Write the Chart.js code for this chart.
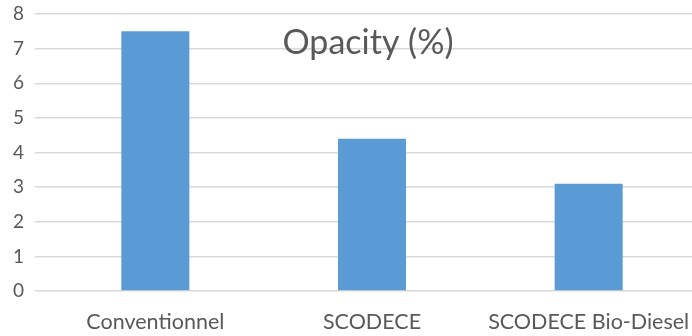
<!DOCTYPE html>
<html>
<head>
<meta charset="utf-8">
<script src="https://cdn.jsdelivr.net/npm/chart.js@4/dist/chart.umd.min.js"></script>
<style>
  html, body { margin: 0; padding: 0; overflow: hidden; background: #fff; }
  #wrap { width: 700px; height: 336px; position: relative; }
</style>
</head>
<body>
<div id="wrap"><canvas id="c"></canvas></div>
<script>
// Opacity readings per fuel
const categories = ['Conventionnel', 'SCODECE', 'SCODECE Bio-Diesel'];
const opacity = [7.5, 4.4, 3.1];
const yTicks = [0, 1, 2, 3, 4, 5, 6, 7, 8];
const chartTitle = 'Opacity (%)';

const FONT = 'Lato, "Open Sans", sans-serif';
const TEXT = '#595959';
const GRID = '#d9d9d9';

// Title drawn inside the plot area, over the grid
const innerTitle = {
  id: 'innerTitle',
  afterDatasetsDraw(chart) {
    const { ctx, chartArea, scales } = chart;
    ctx.save();
    ctx.font = '34px ' + FONT;
    ctx.fillStyle = TEXT;
    ctx.textAlign = 'center';
    ctx.textBaseline = 'alphabetic';
    ctx.fillText(chartTitle, scales.x.getPixelForValue(1) - 4, chartArea.top + 40);
    ctx.restore();
  }
};

new Chart(document.getElementById('c'), {
  type: 'bar',
  data: {
    labels: categories,
    datasets: [{
      label: chartTitle,
      data: opacity,
      backgroundColor: '#5b9bd5',
      borderWidth: 0,
      barPercentage: 1,
      categoryPercentage: 0.314
    }]
  },
  options: {
    responsive: true,
    maintainAspectRatio: false,
    animation: false,
    layout: { padding: { top: 14, right: 3, left: 0, bottom: 0 } },
    plugins: {
      legend: { display: false },
      title: { display: false },
      tooltip: { enabled: false }
    },
    scales: {
      x: {
        grid: { display: false },
        border: { display: false },
        ticks: { color: TEXT, font: { family: FONT, size: 21.5 }, padding: 10, maxRotation: 0, autoSkip: false },
        afterFit(s) { s.height = 45; s.paddingLeft = 0; s.paddingRight = 0; }
      },
      y: {
        min: yTicks[0],
        max: yTicks[yTicks.length - 1],
        afterBuildTicks(s) { s.ticks = yTicks.map(v => ({ value: v })); },
        grid: { color: GRID, lineWidth: 1.5, tickLength: 12, tickColor: GRID },
        border: { display: false },
        ticks: { color: TEXT, font: { family: FONT, size: 19 }, padding: 11 },
        afterFit(s) { s.width = 47; s.paddingTop = 0; s.paddingBottom = 0; }
      }
    }
  },
  plugins: [innerTitle]
});
</script>
</body>
</html>
